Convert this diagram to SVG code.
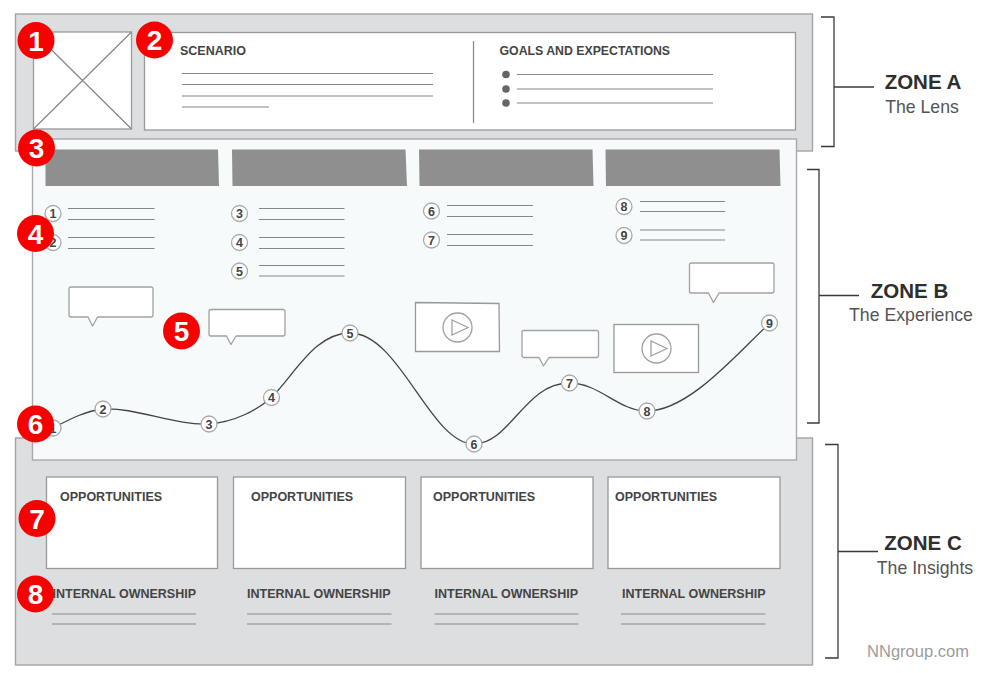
<svg xmlns="http://www.w3.org/2000/svg" width="984" height="673" viewBox="0 0 984 673">
<style>
text{font-family:"Liberation Sans",Arial,sans-serif}
.zone{fill:#dcdee0;stroke:#a2a4a6;stroke-width:1.4}
.box{fill:#fff;stroke:#98999b;stroke-width:1.3}
.ln{stroke:#858688;stroke-width:1.2;fill:none}
.lnd{stroke:#a4a6a8;stroke-width:1.6;fill:none}
.hdr{fill:#8f8f8f}
.lab{font-size:12.5px;font-weight:700;fill:#444}
.lab2{font-size:12.3px;font-weight:700;fill:#444}
.call{fill:#fff;stroke:#a0a1a3;stroke-width:1.3;stroke-linejoin:round}
.nc{fill:#fff;stroke:#a8a9ab;stroke-width:1.3}
.nt{font-size:12.5px;font-weight:700;fill:#444;text-anchor:middle}
.rc{fill:#f60000}
.rt{font-size:28px;font-weight:700;fill:#fff;text-anchor:middle}
.br{stroke:#3a3a3a;stroke-width:1.3;fill:none}
.zt{font-size:20.5px;font-weight:700;fill:#2e2e2e;text-anchor:middle}
.zs{font-size:17.7px;fill:#555;text-anchor:middle}
</style>
<rect width="984" height="673" fill="#fff"/>
<g id="zone-a-bg"><rect class="zone" x="15.500" y="14" width="797" height="137"/></g>
<g id="zone-c-bg"><rect class="zone" x="15.500" y="438" width="797" height="227"/></g>
<g id="zone-b-bg"><rect x="32.500" y="139" width="764" height="321" fill="#f6fafb" stroke="#a8aaac" stroke-width="1.4"/></g>
<g id="persona"><rect class="box" x="33.500" y="32" width="98" height="97"/><path class="ln" d="M33.500 129L131.500 32M33.500 32L131.500 129"/></g>
<g id="scenario">
<rect class="box" x="144.500" y="32.500" width="651" height="97.500"/>
<text class="lab" x="180" y="55">SCENARIO</text>
<path class="ln" d="M182 73.500H433M182 84.500H433M182 96H433M182 107H269"/>
<line class="ln" x1="473.500" y1="41" x2="473.500" y2="123"/>
<text class="lab2" x="499.500" y="55">GOALS AND EXPECTATIONS</text>
<circle cx="506" cy="74.500" r="3.800" fill="#666"/><circle cx="506" cy="89" r="3.800" fill="#666"/><circle cx="506" cy="103" r="3.800" fill="#666"/>
<path class="ln" d="M517 74.500H713M517 89H713M517 103H713"/>
</g>
<g id="phase-headers">
<path class="hdr" d="M45.500 149.500H218L219 186H45.500Z"/>
<path class="hdr" d="M232 149.500H405.500L407 186H232.500Z"/>
<path class="hdr" d="M419 149.500H592.500L593.500 186H419.500Z"/>
<path class="hdr" d="M605.500 149.500H779.500L780.500 186H606Z"/>
</g>
<g id="step-lists">
<path class="ln" d="M68 208.500H154.500M68 219.500H154.500M68 237.500H154.500M68 248.500H154.500M259 208.500H344.500M259 219.500H344.500M259 237.500H344.500M259 248.500H344.500M259 265.500H344.500M259 276H344.500M447 205.500H533M447 216.500H533M447 234.500H533M447 245.500H533M640 201.500H725M640 211.500H725M640 230H725M640 240H725"/>
<circle class="nc" cx="53" cy="213.500" r="8"/><text class="nt" x="53" y="218">1</text>
<circle class="nc" cx="53" cy="242.500" r="8"/><text class="nt" x="53" y="247">2</text>
<circle class="nc" cx="239.500" cy="213.500" r="8"/><text class="nt" x="239.500" y="218">3</text>
<circle class="nc" cx="239.500" cy="242.500" r="8"/><text class="nt" x="239.500" y="247">4</text>
<circle class="nc" cx="239.500" cy="271" r="8"/><text class="nt" x="239.500" y="275.500">5</text>
<circle class="nc" cx="431.500" cy="211" r="8"/><text class="nt" x="431.500" y="215.500">6</text>
<circle class="nc" cx="431.500" cy="240" r="8"/><text class="nt" x="431.500" y="244.500">7</text>
<circle class="nc" cx="624" cy="206.500" r="8"/><text class="nt" x="624" y="211">8</text>
<circle class="nc" cx="624" cy="235.500" r="8"/><text class="nt" x="624" y="240">9</text>
</g>
<g id="callout-1"><path class="call" d="M71 287H151Q153 287 153 289V315Q153 317 151 317H97.500L92.500 326L88 317H71Q69 317 69 315V289Q69 287 71 287Z"/></g>
<g id="callout-2"><path class="call" d="M211 309.500H283Q285 309.500 285 311.500V334Q285 336 283 336H236L231 344.500L226.500 336H211Q209 336 209 334V311.500Q209 309.500 211 309.500Z"/></g>
<g id="callout-3"><path class="call" d="M524 330.500H596.500Q598.500 330.500 598.500 332.500V355Q598.500 357.500 596.500 357.500H549L543.500 366L539 357.500H524Q522 357.500 522 355V332.500Q522 330.500 524 330.500Z"/></g>
<g id="callout-4"><path class="call" d="M691.500 263H772Q774 263 774 265V291Q774 293 772 293H719L713.500 302.500L708.500 293H691.500Q689.500 293 689.500 291V265Q689.500 263 691.500 263Z"/></g>
<g id="video-1"><path class="box" d="M415.500 302.500L499 303.500L499.500 351.500L415.500 351.500Z"/><circle cx="457.500" cy="327.500" r="14.500" fill="#fff" stroke="#a0a1a3" stroke-width="1.3"/><path d="M452 320L468 327.500L452 335Z" fill="#fff" stroke="#a0a1a3" stroke-width="1.3"/></g>
<g id="video-2"><rect class="box" x="614" y="324.500" width="84.500" height="48"/><circle cx="656.500" cy="348.500" r="14.500" fill="#fff" stroke="#a0a1a3" stroke-width="1.3"/><path d="M651 341L667 348.500L651 356Z" fill="#fff" stroke="#a0a1a3" stroke-width="1.3"/></g>
<g id="connectors"><path d="M53 428C72 418 86 411 103 409C135 407 176 426 209 424C235 422 257 410 271 398C295 374 315 333 350 333C400 333 430 444 474 444C510 444 525 383 569 383C600 383 618 411 647 411C690 411 740 350 770 323" fill="none" stroke="#444" stroke-width="1.3"/></g>
<g id="curve-points">
<circle class="nc" cx="53" cy="428" r="8"/><text class="nt" x="53" y="432.500">1</text>
<circle class="nc" cx="103" cy="409" r="8"/><text class="nt" x="103" y="413.500">2</text>
<circle class="nc" cx="209" cy="424" r="8"/><text class="nt" x="209" y="428.500">3</text>
<circle class="nc" cx="271.500" cy="397.500" r="8"/><text class="nt" x="271.500" y="402">4</text>
<circle class="nc" cx="350" cy="333" r="8"/><text class="nt" x="350" y="337.500">5</text>
<circle class="nc" cx="474" cy="444" r="8"/><text class="nt" x="474" y="448.500">6</text>
<circle class="nc" cx="569.500" cy="383" r="8"/><text class="nt" x="569.500" y="387.500">7</text>
<circle class="nc" cx="647" cy="411" r="8"/><text class="nt" x="647" y="415.500">8</text>
<circle class="nc" cx="769.500" cy="323" r="8"/><text class="nt" x="769.500" y="327.500">9</text>
</g>
<g id="opportunities">
<rect class="box" x="46.500" y="477" width="171" height="91.500"/><text class="lab" x="60" y="501">OPPORTUNITIES</text>
<rect class="box" x="233.500" y="477" width="172" height="91.500"/><text class="lab" x="251" y="501">OPPORTUNITIES</text>
<rect class="box" x="421" y="477" width="172" height="91.500"/><text class="lab" x="433" y="501">OPPORTUNITIES</text>
<rect class="box" x="608" y="477" width="172" height="91.500"/><text class="lab" x="615" y="501">OPPORTUNITIES</text>
</g>
<g id="ownership">
<text class="lab" x="52.500" y="598">INTERNAL OWNERSHIP</text>
<text class="lab" x="247" y="598">INTERNAL OWNERSHIP</text>
<text class="lab" x="434.500" y="598">INTERNAL OWNERSHIP</text>
<text class="lab" x="622" y="598">INTERNAL OWNERSHIP</text>
<path class="lnd" d="M52 614H196M52 624H196M247 614H391.500M247 624H391.500M434.500 614H578.500M434.500 624H578.500M621 614H765.500M621 624H765.500"/>
</g>
<g id="badge-1"><circle class="rc" cx="36" cy="40.500" r="18.500"/><text class="rt" x="36" y="50.500">1</text></g>
<g id="badge-2"><circle class="rc" cx="154.500" cy="40" r="18.500"/><text class="rt" x="154.500" y="50">2</text></g>
<g id="badge-3"><circle class="rc" cx="36.500" cy="148" r="18.500"/><text class="rt" x="36.500" y="158">3</text></g>
<g id="badge-4"><circle class="rc" cx="35.500" cy="233.500" r="18.500"/><text class="rt" x="35.500" y="243.500">4</text></g>
<g id="badge-5"><circle class="rc" cx="181.500" cy="331" r="18.500"/><text class="rt" x="181.500" y="341">5</text></g>
<g id="badge-6"><circle class="rc" cx="35.500" cy="424" r="18.500"/><text class="rt" x="35.500" y="434">6</text></g>
<g id="badge-7"><circle class="rc" cx="37" cy="518.500" r="18.500"/><text class="rt" x="37" y="528.500">7</text></g>
<g id="badge-8"><circle class="rc" cx="35.500" cy="594" r="18.500"/><text class="rt" x="35.500" y="604">8</text></g>
<g id="zone-a"><path class="br" d="M821 17H834V146.500H821M834 87H874"/><text class="zt" x="923" y="89">ZONE A</text><text class="zs" x="922" y="113">The Lens</text></g>
<g id="zone-b"><path class="br" d="M807 169.500H819V423H807M819 295.500H859"/><text class="zt" x="909.500" y="298">ZONE B</text><text class="zs" x="911" y="321">The Experience</text></g>
<g id="zone-c"><path class="br" d="M825 444.500H838V658H825M838 551.500H878"/><text class="zt" x="923" y="550">ZONE C</text><text class="zs" x="925" y="574">The Insights</text></g>
<text x="918" y="657" font-size="16.500" fill="#9c9c9c" text-anchor="middle">NNgroup.com</text>
</svg>
